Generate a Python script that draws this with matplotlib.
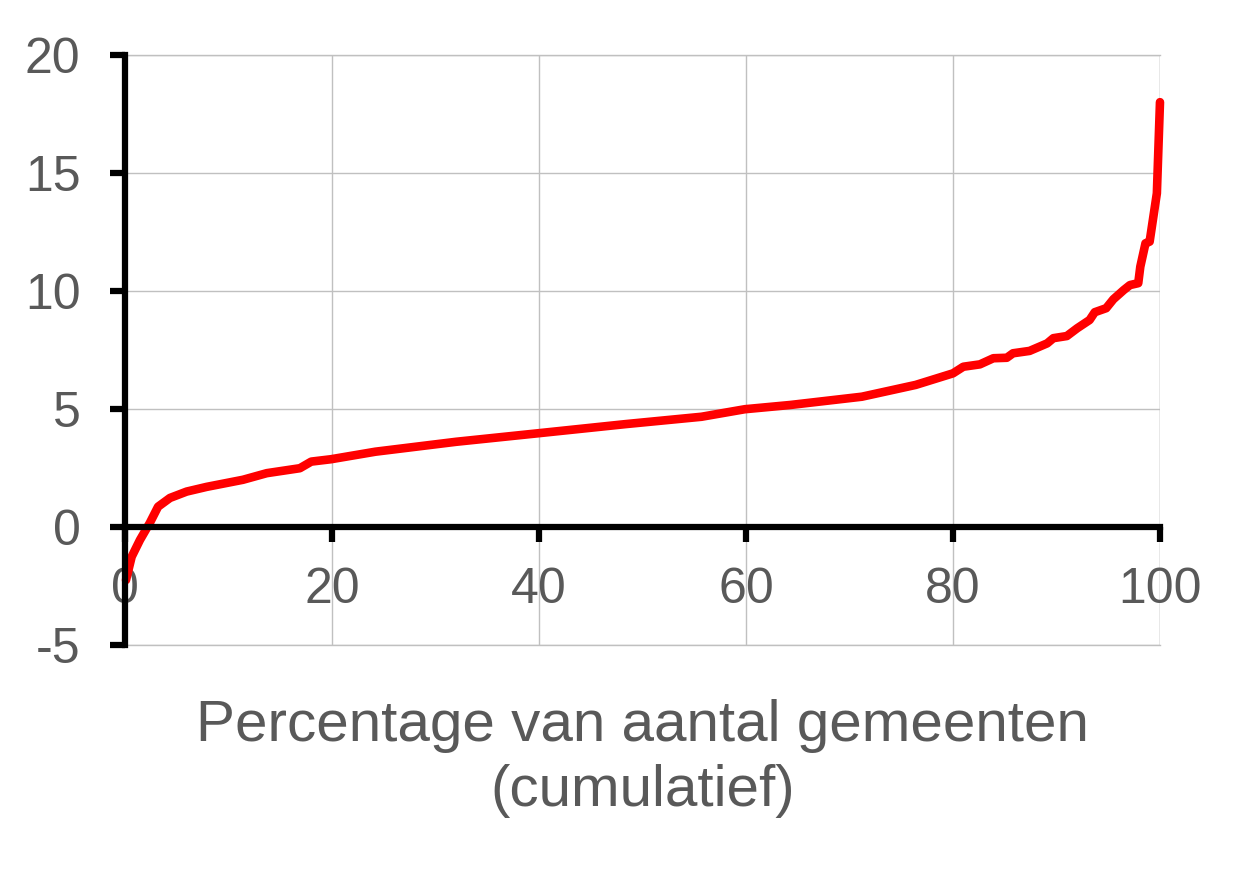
import matplotlib

matplotlib.use("Agg")

import matplotlib.pyplot as plt

# cumulative share of municipalities (%) vs value
pct = [0.1, 0.65, 1.45, 2.4, 3.2, 4.35, 5.96, 7.9, 11.4, 13.7, 16.9, 18.0, 19.9,
       24.2, 32.0, 39.9, 48.4, 55.7, 59.9, 64.3, 71.2, 76.4, 80.0, 81.0, 82.6,
       83.9, 85.2, 85.8, 87.4, 89.1, 89.7, 91.0, 92.0, 93.2, 93.7, 94.8, 95.5,
       96.5, 97.1, 97.9, 98.1, 98.6, 99.0, 99.7, 100.0]
vals = [-2.25, -1.26, -0.55, 0.17, 0.86, 1.23, 1.5, 1.7, 2.0, 2.28, 2.49, 2.77, 2.87,
        3.19, 3.61, 3.97, 4.36, 4.67, 4.99, 5.17, 5.52, 6.02, 6.51, 6.79, 6.89,
        7.15, 7.17, 7.36, 7.46, 7.78, 8.0, 8.09, 8.42, 8.77, 9.1, 9.27, 9.65,
        10.04, 10.25, 10.33, 11.03, 12.02, 12.09, 14.14, 18.0]

x_ticks = [0, 20, 40, 60, 80, 100]
y_ticks = [-5, 0, 5, 10, 15, 20]
x_label = "Percentage van aantal gemeenten\n(cumulatief)"

plt.rcParams["font.family"] = ["Liberation Sans", "DejaVu Sans"]
plt.rcParams["axes.unicode_minus"] = False

fig = plt.figure(figsize=(12.52, 8.85), dpi=100)
ax = fig.add_axes([0.0998, 0.2712, 0.8267, 0.6667])

ax.plot(pct, vals, color="#ff0000", linewidth=6.2, solid_capstyle="round",
        solid_joinstyle="round", clip_on=False, zorder=5)

ax.set_xlim(0, 100)
ax.set_ylim(-5, 20)
ax.set_xticks(x_ticks)
ax.set_yticks(y_ticks)

ax.grid(True, color="#c0c0c0", linewidth=1.0)
ax.set_axisbelow(True)
ax.axvline(100, color="#c0c0c0", linewidth=1.0, zorder=0)
for v in [20, -5]:
    ax.axhline(v, color="#c0c0c0", linewidth=1.0, zorder=0, clip_on=False)

ax.spines["top"].set_visible(False)
ax.spines["right"].set_visible(False)
ax.spines["left"].set_linewidth(4.5)
ax.spines["bottom"].set_linewidth(4.5)
ax.spines["bottom"].set_position(("data", 0))
ax.spines["left"].set_zorder(6)
ax.spines["bottom"].set_zorder(6)

ax.tick_params(axis="y", direction="out", length=11, width=4.5, pad=21,
               labelsize=36, labelcolor="#595959", color="black")
ax.tick_params(axis="x", direction="out", length=11, width=4.5, pad=18,
               labelsize=36, labelcolor="#595959", color="black")

fig.text(0.513, 0.143, x_label, ha="center", va="center", fontsize=42,
         color="#595959", linespacing=1.26)

fig.savefig("out.png", dpi=100)
